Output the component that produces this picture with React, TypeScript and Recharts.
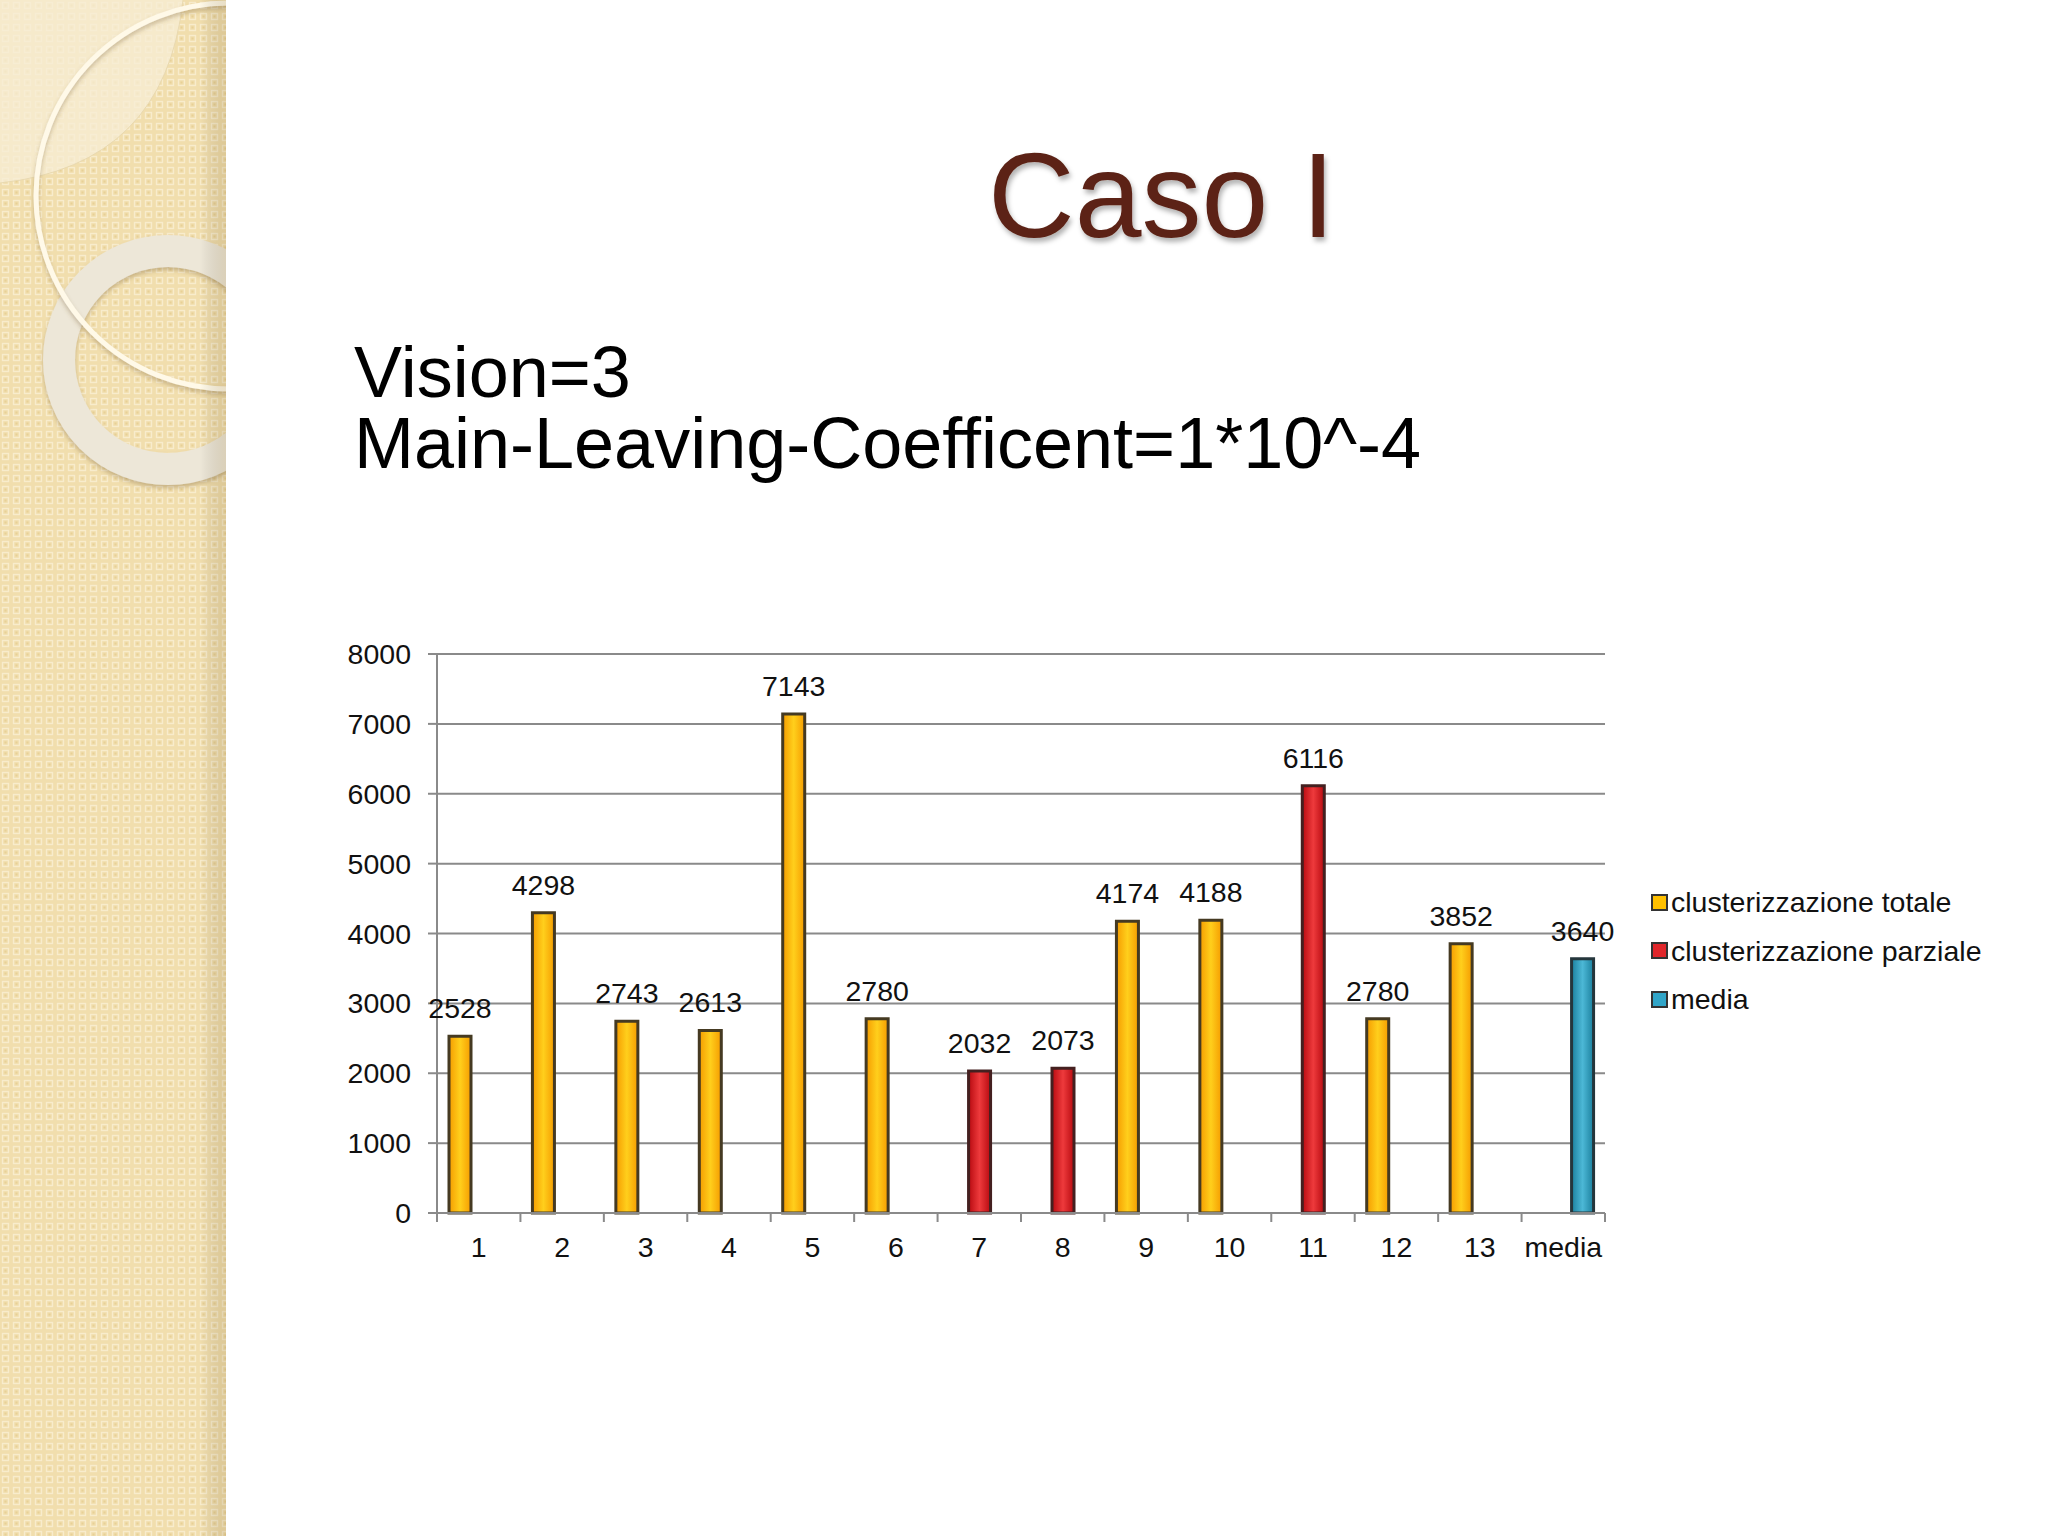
import React from 'react';
import { BarChart, Bar, XAxis, YAxis, CartesianGrid, LabelList, Legend } from 'recharts';

const categories = ['1', '2', '3', '4', '5', '6', '7', '8', '9', '10', '11', '12', '13', 'media'];
const totale = [2528, 4298, 2743, 2613, 7143, 2780, null, null, 4174, 4188, null, 2780, 3852, null];
const parziale = [null, null, null, null, null, null, 2032, 2073, null, null, 6116, null, null, null];
const mediaValues = [null, null, null, null, null, null, null, null, null, null, null, null, null, 3640];
const yTicks = [0, 1000, 2000, 3000, 4000, 5000, 6000, 7000, 8000];
const seriesKeys = ['totale', 'parziale', 'media'];
const seriesNames = ['clusterizzazione totale', 'clusterizzazione parziale', 'media'];

const data = categories.map((c, i) => ({
  cat: c,
  totale: totale[i],
  parziale: parziale[i],
  media: mediaValues[i],
}));

const FONT = '"Liberation Sans", Arial, Helvetica, sans-serif';
const FS = 28.5;
const W = 2048;
const H = 1536;
const PLOT_L = 437;
const PLOT_R = 1605;
const PLOT_T = 654;
const PLOT_B = 1213;
const Y_W = 80;
const X_H = 60;
const BAND = (PLOT_R - PLOT_L) / categories.length;
const GRID = '#8a8a8a';

const swatch: Record<string, string> = {
  totale: '#FFC000',
  parziale: '#E0262B',
  media: '#31A5C8',
};

const XTick = (props: any) => {
  const { x, y, payload, index } = props;
  const last = index === categories.length - 1;
  return (
    <g>
      <line x1={x - BAND / 2} x2={x - BAND / 2} y1={y} y2={y + 9} stroke={GRID} strokeWidth={2} />
      {last && <line x1={x + BAND / 2} x2={x + BAND / 2} y1={y} y2={y + 9} stroke={GRID} strokeWidth={2} />}
      <text x={x} y={y + 44} textAnchor="middle" fontSize={FS} fontFamily={FONT} fill="#111">
        {payload.value}
      </text>
    </g>
  );
};

const LegendContent = (props: any) => {
  const payload = [...(props.payload || [])].sort(
    (a: any, b: any) => seriesKeys.indexOf(a.dataKey) - seriesKeys.indexOf(b.dataKey)
  );
  return (
    <div style={{ fontFamily: FONT, fontSize: FS, color: '#111' }}>
      {payload.map((p: any) => (
        <div key={p.dataKey} style={{ display: 'flex', alignItems: 'center', height: 48.5, lineHeight: '48.5px' }}>
          <span
            style={{
              display: 'inline-block',
              width: 13,
              height: 13,
              background: swatch[p.dataKey],
              border: '2px solid #333',
              marginRight: 3,
            }}
          />
          <span style={{ whiteSpace: 'nowrap' }}>{p.value}</span>
        </div>
      ))}
    </div>
  );
};

const Background = () => (
  <svg width={W} height={H} style={{ position: 'absolute', left: 0, top: 0 }}>
    <defs>
      <pattern id="pat" width="11" height="11" patternUnits="userSpaceOnUse">
        <rect width="11" height="11" fill="#F1DEAD" />
        <rect x="2.5" y="2.5" width="6" height="6" fill="none" stroke="#F8ECCC" strokeWidth="1.4" />
        <rect x="4.5" y="4.5" width="2" height="2" fill="#E8D096" />
      </pattern>
      <linearGradient id="edge" x1="0" x2="1" y1="0" y2="0">
        <stop offset="0" stopColor="#000" stopOpacity="0" />
        <stop offset="1" stopColor="#8a6a2a" stopOpacity="0.18" />
      </linearGradient>
      <clipPath id="band">
        <rect x="0" y="0" width="226" height={H} />
      </clipPath>
      <filter id="tshadow" x="-10%" y="-10%" width="130%" height="140%">
        <feDropShadow dx="2" dy="4" stdDeviation="2.5" floodColor="#000" floodOpacity="0.3" />
      </filter>
      <filter id="rshadow" x="-20%" y="-20%" width="140%" height="140%">
        <feDropShadow dx="0" dy="3" stdDeviation="2" floodColor="#7a6030" floodOpacity="0.35" />
      </filter>
    </defs>
    <rect x="0" y="0" width={W} height={H} fill="#FFFFFF" />
    <g clipPath="url(#band)">
      <rect x="0" y="0" width="226" height={H} fill="url(#pat)" />
      <path d="M0,0 L183,0 Q165,165 0,183 Z" fill="#F7EDD6" opacity="0.75" />
      <path d="M183,0 Q165,165 0,183" fill="none" stroke="#E9D9B0" strokeWidth="1" />
      <circle cx="168" cy="360" r="109" fill="none" stroke="#EDE7D8" strokeWidth="32" filter="url(#rshadow)" />
      <circle cx="229" cy="196" r="193" fill="none" stroke="#FFF9E8" strokeWidth="5" filter="url(#rshadow)" />
      <rect x="200" y="0" width="26" height={H} fill="url(#edge)" />
    </g>
    <text x="988" y="237" fontFamily={FONT} fontSize="120" fill="#5B2417" filter="url(#tshadow)">
      Caso I
    </text>
    <text x="354" y="397" fontFamily={FONT} fontSize="72" fill="#000">
      Vision=3
    </text>
    <text x="354" y="468" fontFamily={FONT} fontSize="72" fill="#000">
      Main-Leaving-Coefficent=1*10^-4
    </text>
  </svg>
);

export default function App() {
  return (
    <div style={{ position: 'absolute', left: 0, top: 0, width: W, height: H, overflow: 'hidden', background: '#fff' }}>
      <Background />
      <div style={{ position: 'absolute', left: 0, top: 0 }}>
        <BarChart
          width={W}
          height={H}
          data={data}
          margin={{ top: PLOT_T, left: PLOT_L - Y_W, right: W - PLOT_R, bottom: H - PLOT_B - X_H }}
          barSize={22}
          barGap={-3}
        >
          <defs>
            <linearGradient id="gY" x1="0" x2="1" y1="0" y2="0">
              <stop offset="0" stopColor="#F59C00" />
              <stop offset="0.5" stopColor="#FFCF1C" />
              <stop offset="1" stopColor="#F59C00" />
            </linearGradient>
            <linearGradient id="gR" x1="0" x2="1" y1="0" y2="0">
              <stop offset="0" stopColor="#B80A10" />
              <stop offset="0.5" stopColor="#EE3A3C" />
              <stop offset="1" stopColor="#B80A10" />
            </linearGradient>
            <linearGradient id="gB" x1="0" x2="1" y1="0" y2="0">
              <stop offset="0" stopColor="#1B809E" />
              <stop offset="0.5" stopColor="#4CB8D6" />
              <stop offset="1" stopColor="#1B809E" />
            </linearGradient>
          </defs>
          <CartesianGrid vertical={false} stroke={GRID} strokeWidth={2} />
          <XAxis
            dataKey="cat"
            interval={0}
            height={X_H}
            tickLine={false}
            tickSize={0}
            tickMargin={0}
            axisLine={{ stroke: GRID, strokeWidth: 2 }}
            tick={<XTick />}
          />
          <YAxis
            width={Y_W}
            domain={[0, 8000]}
            ticks={yTicks}
            interval={0}
            tickSize={9}
            tickMargin={17}
            axisLine={{ stroke: GRID, strokeWidth: 2 }}
            tickLine={{ stroke: GRID, strokeWidth: 2 }}
            tick={{ fontSize: FS, fontFamily: FONT, fill: '#111' }}
          />
          <Legend
            verticalAlign="middle"
            align="center"
            layout="vertical"
            content={<LegendContent />}
            wrapperStyle={{ position: 'absolute', left: 1651, top: 878, width: 380 }}
          />
          <Bar dataKey="totale" name={seriesNames[0]} fill="url(#gY)" stroke="#453A22" strokeWidth={3} isAnimationActive={false}>
            <LabelList dataKey="totale" position="top" offset={18} fontSize={FS} fontFamily={FONT} fill="#111" />
          </Bar>
          <Bar dataKey="parziale" name={seriesNames[1]} fill="url(#gR)" stroke="#442020" strokeWidth={3} isAnimationActive={false}>
            <LabelList dataKey="parziale" position="top" offset={18} fontSize={FS} fontFamily={FONT} fill="#111" />
          </Bar>
          <Bar dataKey="media" name={seriesNames[2]} fill="url(#gB)" stroke="#25363C" strokeWidth={3} isAnimationActive={false}>
            <LabelList dataKey="media" position="top" offset={18} fontSize={FS} fontFamily={FONT} fill="#111" />
          </Bar>
        </BarChart>
      </div>
    </div>
  );
}
